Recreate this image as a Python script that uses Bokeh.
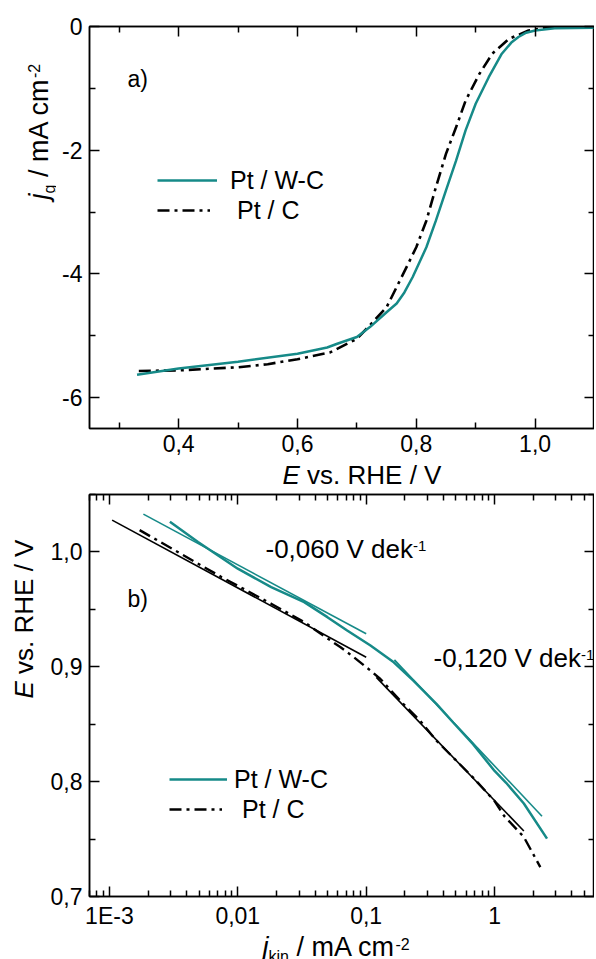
import numpy as np
from bokeh.plotting import figure
from bokeh.models import (Range1d, LinearAxis, LogAxis, FixedTicker, Label,
                          Legend, LegendItem)
from bokeh.layouts import column, row
from bokeh.embed import file_html
from bokeh.resources import INLINE

# ---------------- data ----------------
# panel a) : j_g (mA cm-2) vs E (V vs RHE)
top_wc_E = [0.33, 0.40, 0.50, 0.60, 0.65, 0.667, 0.70, 0.722, 0.75, 0.767, 0.78,
            0.794, 0.817, 0.833, 0.85, 0.867, 0.883, 0.90, 0.922, 0.944, 0.96,
            0.972, 0.985, 1.0, 1.033, 1.1]
top_wc_j = [-5.63, -5.53, -5.42, -5.29, -5.19, -5.13, -5.02, -4.86, -4.62, -4.48,
            -4.30, -4.05, -3.57, -3.14, -2.65, -2.17, -1.68, -1.25, -0.82, -0.44,
            -0.26, -0.17, -0.10, -0.065, -0.03, -0.02]
top_c_E = [0.333, 0.40, 0.50, 0.55, 0.60, 0.655, 0.70, 0.722, 0.75, 0.778, 0.80,
           0.817, 0.833, 0.85, 0.867, 0.883, 0.906, 0.928, 0.956, 0.989, 1.02, 1.1]
top_c_j = [-5.57, -5.56, -5.51, -5.46, -5.38, -5.27, -5.05, -4.83, -4.54, -4.0,
           -3.57, -3.14, -2.6, -2.06, -1.63, -1.2, -0.77, -0.44, -0.2, -0.065,
           -0.02, -0.01]

# panel b) : E vs j_kin (Tafel)
bot_wc_j = [2.96e-3, 4.9e-3, 0.010, 0.0182, 0.0329, 0.0499, 0.0711, 0.108, 0.164,
            0.233, 0.354, 0.476, 0.68, 1.0, 1.23, 1.69, 2.56]
bot_wc_E = [1.0262, 1.0087, 0.9854, 0.9694, 0.9563, 0.9432, 0.9316, 0.9185, 0.9039,
            0.8879, 0.8675, 0.8515, 0.8326, 0.8093, 0.799, 0.781, 0.7504]
bot_c_j = [1.72e-3, 3.06e-3, 7.45e-3, 0.0182, 0.0329, 0.0443, 0.0632, 0.0802, 0.108,
           0.129, 0.195, 0.263, 0.354, 0.476, 0.681, 1.0, 1.19, 1.69, 2.27]
bot_c_E = [1.019, 1.0029, 0.9782, 0.9549, 0.9389, 0.9287, 0.917, 0.9083, 0.8967,
           0.8894, 0.8675, 0.853, 0.8355, 0.821, 0.8035, 0.7831, 0.77, 0.7518, 0.7256]

fit_wc_60_j = [1.84e-3, 0.1]
fit_wc_60_E = [1.0329, 0.9287]
fit_wc_120_j = [0.166, 2.34]
fit_wc_120_E = [0.906, 0.7699]
fit_c_60_j = [1.05e-3, 0.1]
fit_c_60_E = [1.0277, 0.9083]
fit_c_120_j = [0.12, 1.69]
fit_c_120_E = [0.8908, 0.757]

series_names = ["Pt / W-C", "Pt / C"]

top_xticks = [0.4, 0.6, 0.8, 1.0]
top_xlabels = ["0,4", "0,6", "0,8", "1,0"]
top_xminor = [0.3, 0.5, 0.7, 0.9, 1.1]
top_yticks = [-6, -4, -2, 0]
top_ylabels = ["-6", "-4", "-2", "0"]
top_yminor = [-5, -3, -1]

bot_xticks = [0.001, 0.01, 0.1, 1.0]
bot_xlabels = ["1E-3", "0,01", "0,1", "1"]
bot_yticks = [0.7, 0.8, 0.9, 1.0]
bot_ylabels = ["0,7", "0,8", "0,9", "1,0"]
bot_yminor = [0.75, 0.85, 0.95, 1.05]

# ---------------- style ----------------
FONT = "Liberation Sans"
TEAL = "#168a88"
BLACK = "#000000"
DASHDOT = "12 5 3 5"
DESC = 0.212   # font descent (em)

# Arial / Liberation Sans advance widths (1/1000 em)
W = {' ': 278, '!': 278, '(': 333, ')': 333, ',': 278, '-': 333, '.': 278, '/': 278,
     'A': 667, 'C': 722, 'E': 667, 'H': 722, 'P': 667, 'R': 722, 'V': 667, 'W': 944,
     'a': 556, 'b': 556, 'c': 500, 'd': 556, 'e': 556, 'g': 556, 'i': 222, 'j': 222,
     'k': 500, 'm': 833, 'n': 556, 's': 500, 't': 278, 'v': 500}


def tw(s, size):
    return sum(W.get(c, 556) for c in s) * size / 1000.0


def rich(p, pieces, x, y, rotated=False, shift=0.0):
    """pieces placed one after another; (x, y) = baseline start, frame-relative px."""
    adv = 0.0
    for text, size, style, dy in pieces:
        lead = len(text) - len(text.lstrip(" "))
        off = adv + tw(" " * lead, size)
        if rotated:
            lx, ly, ang = x - dy + DESC * size, y + off - shift, np.pi / 2
        else:
            lx, ly, ang = x + off, y + dy - DESC * size, 0.0
        p.add_layout(Label(x=lx, y=ly, x_units="screen", y_units="screen",
                           text=text.strip(" "), angle=ang, text_font=FONT,
                           text_font_size=f"{size}px", text_font_style=style,
                           text_color="black", text_align="left",
                           text_baseline="bottom"))
        adv += tw(text, size)


def style_axis(ax, ticks, minor, labels=None, standoff=8):
    ax.ticker = FixedTicker(ticks=ticks, minor_ticks=minor)
    ax.major_tick_in = 10
    ax.major_tick_out = 0
    ax.minor_tick_in = 6
    ax.minor_tick_out = 0
    ax.major_tick_line_width = 1.5
    ax.minor_tick_line_width = 1.5
    ax.major_tick_line_color = "black"
    ax.minor_tick_line_color = "black"
    ax.axis_line_width = 1.5
    ax.axis_line_color = "black"
    ax.axis_label = None
    if labels is None:
        ax.major_label_text_font_size = "1px"
        ax.major_label_text_alpha = 0
        ax.major_label_standoff = 0
    else:
        ax.major_label_overrides = {t: l for t, l in zip(ticks, labels)}
        ax.major_label_text_font = FONT
        ax.major_label_text_font_size = "23px"
        ax.major_label_text_color = "black"
        ax.major_label_standoff = standoff


def base_fig(xr, yr, left, top, bottom, xtype="linear"):
    p = figure(frame_width=505, frame_height=402, x_range=xr, y_range=yr,
               x_axis_type=xtype, output_backend="svg", toolbar_location=None,
               min_border_left=left, min_border_right=0, min_border_top=top,
               min_border_bottom=bottom)
    p.xgrid.visible = False
    p.ygrid.visible = False
    p.outline_line_color = "black"
    p.outline_line_width = 1.5
    p.background_fill_color = "white"
    p.border_fill_color = "white"
    return p


def text_fig(w, h):
    t = figure(width=w, height=h, x_range=Range1d(0, 1), y_range=Range1d(0, 1),
               x_axis_location=None, y_axis_location=None, output_backend="svg",
               toolbar_location=None, min_border=0, outline_line_color=None)
    t.grid.visible = False
    t.background_fill_color = "white"
    t.border_fill_color = "white"
    return t


def add_legend(p, r, label, vx, vy, gw, standoff):
    lg = Legend(items=[LegendItem(label=label, renderers=[r])], location=(vx, vy),
                orientation="vertical", glyph_width=gw, glyph_height=30,
                label_height=30, label_standoff=standoff, padding=0, margin=0,
                spacing=0, border_line_alpha=0, background_fill_alpha=0,
                label_text_font=FONT, label_text_font_size="25px",
                label_text_color="black")
    p.add_layout(lg)


# ---------------- panel a ----------------
H1 = 460
p1 = base_fig(Range1d(0.25, 1.1), Range1d(-6.5, 0), 33, 26, 32)
style_axis(p1.xaxis[0], top_xticks, top_xminor, top_xlabels, standoff=6)
style_axis(p1.yaxis[0], top_yticks, top_yminor, top_ylabels, standoff=7)
ax = LinearAxis(); style_axis(ax, top_xticks, top_xminor); p1.add_layout(ax, "above")
ay = LinearAxis(); style_axis(ay, top_yticks, top_yminor); p1.add_layout(ay, "right")

r1c = p1.line(top_c_E, top_c_j, line_color=BLACK, line_width=2.6, line_dash=DASHDOT)
r1w = p1.line(top_wc_E, top_wc_j, line_color=TEAL, line_width=2.5)

add_legend(p1, r1w, series_names[0], 68, 233, 60, 13)
add_legend(p1, r1c, series_names[1], 68, 203, 53, 27)
rich(p1, [("a)", 23, "normal", 0)], 38, 341)

ty1 = text_fig(56, H1)
rich(ty1, [("j", 27, "italic", 0), ("g", 16, "normal", -6),
           (" / mA cm", 27, "normal", 0), ("-2", 16, "normal", 12)], 48, H1 - 200,
     rotated=True, shift=31)

tx1 = text_fig(596, 32)
rich(tx1, [("E", 26, "italic", 0), (" vs. RHE / V", 26, "normal", 0)], 282, 8)

# ---------------- panel b ----------------
H2 = 436
p2 = base_fig(Range1d(7e-4, 6), Range1d(0.7, 1.05), 45, 2, 32, xtype="log")
bot_xminor = [m * 10.0 ** d for d in range(-4, 1) for m in range(2, 10)]
style_axis(p2.xaxis[0], bot_xticks, bot_xminor, bot_xlabels, standoff=6)
style_axis(p2.yaxis[0], bot_yticks, bot_yminor, bot_ylabels, standoff=7)
ax2 = LogAxis(); style_axis(ax2, bot_xticks, bot_xminor); p2.add_layout(ax2, "above")
ay2 = LinearAxis(); style_axis(ay2, bot_yticks, bot_yminor); p2.add_layout(ay2, "right")

p2.line(fit_c_60_j, fit_c_60_E, line_color=BLACK, line_width=1.6)
p2.line(fit_c_120_j, fit_c_120_E, line_color=BLACK, line_width=1.6)
r2c = p2.line(bot_c_j, bot_c_E, line_color=BLACK, line_width=2.4, line_dash=DASHDOT)
p2.line(fit_wc_60_j, fit_wc_60_E, line_color=TEAL, line_width=1.6)
p2.line(fit_wc_120_j, fit_wc_120_E, line_color=TEAL, line_width=1.6)
r2w = p2.line(bot_wc_j, bot_wc_E, line_color=TEAL, line_width=2.5)

add_legend(p2, r2w, series_names[0], 80, 102, 58, 7)
add_legend(p2, r2c, series_names[1], 80, 72, 53, 20)

rich(p2, [("b)", 23, "normal", 0)], 38, 289)
rich(p2, [("-0,060 V dek", 26, "normal", 0), ("-1", 15, "normal", 11)], 176, 338)
rich(p2, [("-0,120 V dek", 26, "normal", 0), ("-1", 15, "normal", 11)], 344, 229)

ty2 = text_fig(44, H2)
rich(ty2, [("E", 26, "italic", 0), (" vs. RHE / V", 26, "normal", 0)], 33,
     (492 + H2) - 703, rotated=True, shift=30)

tx2 = text_fig(596, 31)
rich(tx2, [("j", 27, "italic", 0), ("kin", 16, "normal", -5),
           (" / mA cm", 27, "normal", 0), ("-2", 16, "normal", 10)], 262, 6)

layout = column(row(ty1, p1, spacing=0), tx1, row(ty2, p2, spacing=0), tx2,
                spacing=0)
open("out.html", "w").write(file_html(layout, INLINE))
